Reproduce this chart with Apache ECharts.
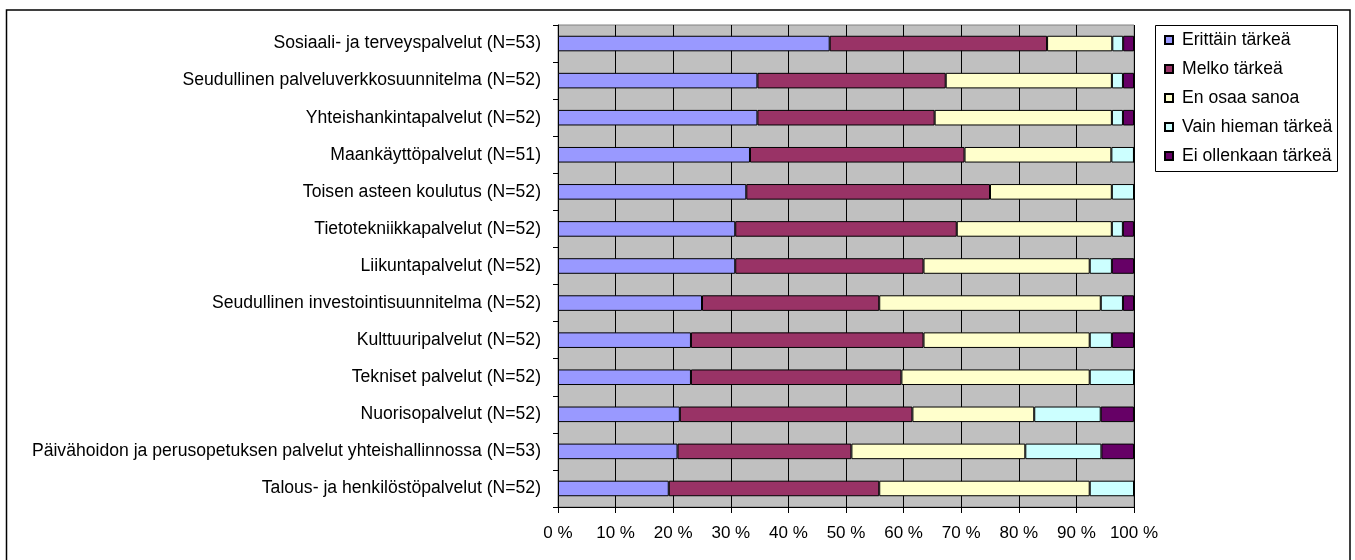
<!DOCTYPE html>
<html>
<head>
<meta charset="utf-8">
<script src="https://cdn.jsdelivr.net/npm/echarts@6/dist/echarts.min.js"></script>
<style>
  html, body { margin: 0; padding: 0; background: #fff; }
  #chart { width: 1355px; height: 560px; }
</style>
</head>
<body>
<div id="chart"></div>
<script>
// Services, listed top to bottom
const categories = [
  'Sosiaali- ja terveyspalvelut (N=53)',
  'Seudullinen palveluverkkosuunnitelma (N=52)',
  'Yhteishankintapalvelut (N=52)',
  'Maankäyttöpalvelut (N=51)',
  'Toisen asteen koulutus (N=52)',
  'Tietotekniikkapalvelut (N=52)',
  'Liikuntapalvelut (N=52)',
  'Seudullinen investointisuunnitelma (N=52)',
  'Kulttuuripalvelut (N=52)',
  'Tekniset palvelut (N=52)',
  'Nuorisopalvelut (N=52)',
  'Päivähoidon ja perusopetuksen palvelut yhteishallinnossa (N=53)',
  'Talous- ja henkilöstöpalvelut (N=52)'
];

// Share of answers, percent of respondents
const erittainTarkea = [47.17, 34.62, 34.62, 33.33, 32.69, 30.77, 30.77, 25.00, 23.08, 23.08, 21.15, 20.75, 19.23];
const melkoTarkea    = [37.74, 32.69, 30.77, 37.25, 42.31, 38.46, 32.69, 30.77, 40.38, 36.54, 40.38, 30.19, 36.54];
const enOsaaSanoa    = [11.32, 28.85, 30.77, 25.49, 21.15, 26.92, 28.85, 38.46, 28.85, 32.69, 21.15, 30.19, 36.54];
const vainHiemanTarkea = [1.89, 1.92, 1.92, 3.92, 3.85, 1.92, 3.85, 3.85, 3.85, 7.69, 11.54, 13.21, 7.69];
const eiOllenkaanTarkea = [1.89, 1.92, 1.92, 0, 0, 1.92, 3.85, 1.92, 3.85, 0, 5.77, 5.66, 0];

const seriesNames = ['Erittäin tärkeä', 'Melko tärkeä', 'En osaa sanoa', 'Vain hieman tärkeä', 'Ei ollenkaan tärkeä'];
const seriesValues = [erittainTarkea, melkoTarkea, enOsaaSanoa, vainHiemanTarkea, eiOllenkaanTarkea];
const seriesColors = ['#9999FF', '#993366', '#FFFFCC', '#CCFFFF', '#660066'];

const xTicks = { min: 0, max: 100, interval: 10 };

const FONT = '"Liberation Sans", Arial, sans-serif';
const FS = 17.6;      // category and legend text
const FS_TICK = 17;   // percent tick labels

const chart = echarts.init(document.getElementById('chart'), null, { renderer: 'canvas' });

chart.setOption({
  animation: false,
  backgroundColor: '#ffffff',
  textStyle: { fontFamily: FONT, color: '#000' },
  graphic: [
    // outer frame of the chart
    { type: 'rect', z: 0, silent: true,
      shape: { x: 6.5, y: 10, width: 1343.5, height: 600 },
      style: { fill: null, stroke: '#000', lineWidth: 1.5 } },
    // legend frame
    { type: 'rect', z: 1, silent: true,
      shape: { x: 1155.5, y: 25.5, width: 182, height: 146 },
      style: { fill: '#fff', stroke: '#000', lineWidth: 1 } }
  ],
  legend: {
    orient: 'vertical',
    left: 1164,
    top: 30,
    padding: 0,
    itemGap: 9,
    itemWidth: 8,
    itemHeight: 8,
    icon: 'rect',
    z: 5,
    textStyle: { fontFamily: FONT, fontSize: FS, color: '#000', lineHeight: 20, padding: [0, 0, 0, 4] },
    data: seriesNames
  },
  grid: {
    left: 558,
    right: 221,
    top: 25,
    bottom: 53,
    show: true,
    backgroundColor: '#C0C0C0',
    borderColor: '#808080',
    borderWidth: 1
  },
  xAxis: {
    type: 'value',
    min: xTicks.min,
    max: xTicks.max,
    interval: xTicks.interval,
    axisLine: { show: true, lineStyle: { color: '#000', width: 1 } },
    axisTick: { show: true, length: 6, lineStyle: { color: '#000' } },
    splitLine: { show: true, lineStyle: { color: '#000', width: 1 } },
    axisLabel: {
      formatter: '{value} %',
      fontFamily: FONT, fontSize: FS_TICK, color: '#000', margin: 18
    }
  },
  yAxis: {
    type: 'category',
    inverse: true,
    data: categories,
    axisLine: { show: true, lineStyle: { color: '#000', width: 1 } },
    axisTick: { show: true, length: 5, lineStyle: { color: '#000' } },
    axisLabel: { fontFamily: FONT, fontSize: FS, color: '#000', margin: 17 }
  },
  series: seriesNames.map((name, i) => ({
    name,
    type: 'bar',
    stack: 'total',
    barWidth: '42%',
    data: seriesValues[i],
    itemStyle: { color: seriesColors[i], borderColor: '#000', borderWidth: 1 }
  }))
});
</script>
</body>
</html>
